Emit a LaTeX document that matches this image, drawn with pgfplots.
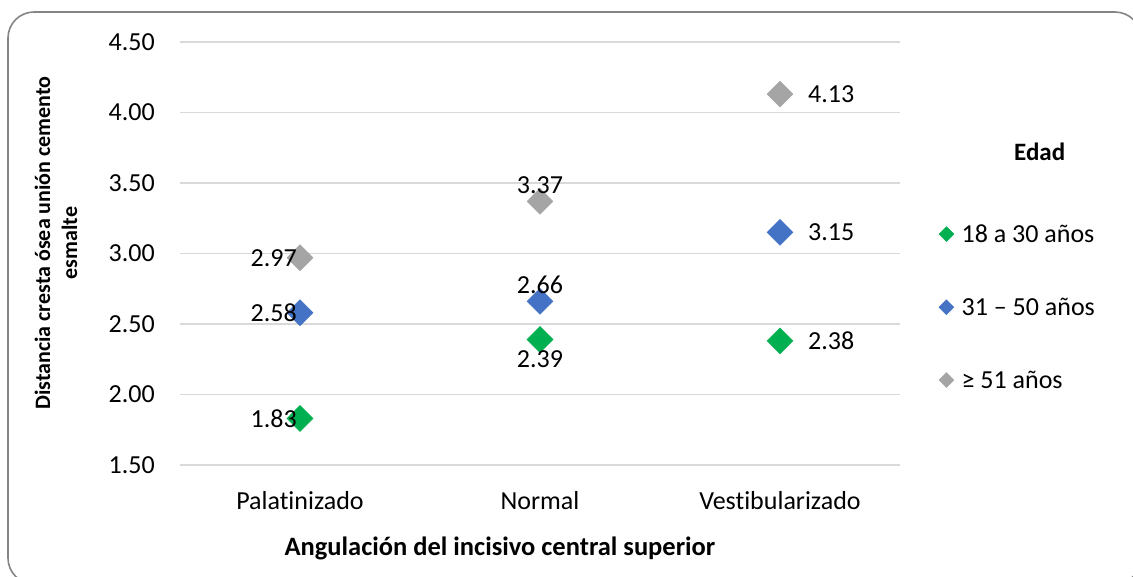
\documentclass[border=0pt]{standalone}
\usepackage{pgfplots}
\pgfplotsset{compat=1.18}
\usepackage{fontspec}
\setmainfont{Carlito}[Ligatures={NoCommon}, RawFeature={-liga;-calt;-dlig}]
\definecolor{cgreen}{HTML}{00B050}
\definecolor{cblue}{HTML}{4472C4}
\definecolor{cgray}{HTML}{A5A5A5}
\definecolor{cgrid}{HTML}{D9D9D9}
\definecolor{cborder}{HTML}{858585}
\newcommand\fs{\fontsize{26}{31}\selectfont}
\begin{document}
\begin{tikzpicture}[x=1pt,y=1pt]
\useasboundingbox (0,0) rectangle (1133,576);
\begin{scope}
\clip (0,0) rectangle (1133,576);
\draw[cborder, line width=1.6pt, rounded corners=26pt] (8,-8) rectangle (1141,564);
\end{scope}
\begin{axis}[
  at={(180pt,111pt)}, anchor=south west,
  scale only axis, width=720pt, height=423pt,
  xmin=-0.5, xmax=2.5, ymin=1.5, ymax=4.5,
  clip=false,
  xtick={0,1,2},
  xticklabels={Palatinizado,Normal,Vestibularizado},
  ytick={1.5,2.0,2.5,3.0,3.5,4.0,4.5},
  axis line style={draw=none},
  major tick length=0pt,
  ymajorgrids,
  grid style={cgrid, line width=1.3pt},
  ticklabel style={font=\fs, text=black},
  yticklabel style={anchor=east, inner sep=0pt, xshift=-25pt},
  xticklabel style={anchor=north, inner sep=0pt, yshift=-26pt},
  xlabel={Angulación del incisivo central superior},
  xlabel style={at={(axis description cs:0.4444,-0.1962)}, anchor=center, font=\bfseries\fontsize{26.5}{32}\selectfont},
  ylabel={Distancia cresta ósea unión cemento\\esmalte},
  ylabel style={at={(axis description cs:-0.1722,0.5248)}, anchor=center, align=center, font=\bfseries\fontsize{22}{27}\selectfont},
  legend style={at={(axis description cs:1.0535,0.3735)}, anchor=west, draw=none, fill=none, inner sep=0pt, row sep=54pt, font=\fs, nodes={inner sep=0pt}},
  legend cell align=left,
  legend image code/.code={\draw[#1, mark size=5.3pt] plot coordinates {(0pt,0pt)}; \path (-7.5pt,0pt) (15pt,0pt);},
  /pgf/number format/fixed,
  /pgf/number format/fixed zerofill,
  /pgf/number format/precision=2,
  /pgf/number format/assume math mode=true,
]
\addplot[only marks, mark=square*, mark size=9.2pt, color=cgreen, mark options={rotate=45, draw=none, fill=cgreen}]
  coordinates {(0,1.83) (1,2.39) (2,2.38)};
\addlegendentry{18 a 30 años}
\addplot[only marks, mark=square*, mark size=9.2pt, color=cblue, mark options={rotate=45, draw=none, fill=cblue}]
  coordinates {(0,2.58) (1,2.66) (2,3.15)};
\addlegendentry{31 – 50 años}
\addplot[only marks, mark=square*, mark size=9.2pt, color=cgray, mark options={rotate=45, draw=none, fill=cgray}]
  coordinates {(0,2.97) (1,3.37) (2,4.13)};
\addlegendentry{≥ 51 años}
% data labels
\addplot[draw=none, mark=none, forget plot, point meta=y, nodes near coords,
  nodes near coords style={anchor=east, inner sep=0pt, xshift=-3pt, font=\fs, text=black}]
  coordinates {(0,1.83) (0,2.58) (0,2.97)};
\addplot[draw=none, mark=none, forget plot, point meta=y, nodes near coords,
  nodes near coords style={anchor=base, inner sep=0pt, yshift=8pt, font=\fs, text=black}]
  coordinates {(1,2.66) (1,3.37)};
\addplot[draw=none, mark=none, forget plot, point meta=y, nodes near coords,
  nodes near coords style={anchor=base, inner sep=0pt, yshift=-28pt, font=\fs, text=black}]
  coordinates {(1,2.39)};
\addplot[draw=none, mark=none, forget plot, point meta=y, nodes near coords,
  nodes near coords style={anchor=west, inner sep=0pt, xshift=28pt, font=\fs, text=black}]
  coordinates {(2,2.38) (2,3.15) (2,4.13)};
\node[font=\bfseries\fontsize{25}{30}\selectfont, inner sep=0pt] at (axis description cs:1.194,0.740) {Edad};
\end{axis}
\end{tikzpicture}
\end{document}
